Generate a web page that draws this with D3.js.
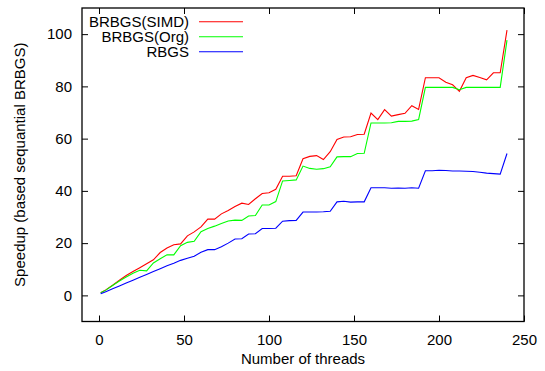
<!DOCTYPE html>
<html>
<head>
<meta charset="utf-8">
<script src="https://cdn.jsdelivr.net/npm/d3@7"></script>
<style>
  body { margin: 0; background: #fff; }
  svg { display: block; }
  text { font-family: "Liberation Sans", Arial, sans-serif; font-size: 15px; fill: #000; }
</style>
</head>
<body>
<svg id="chart" width="545" height="371"></svg>
<script>
// thread counts along x
const threads = [1, 4, 8, 12, 16, 20, 24, 28, 32, 36, 40, 44, 48, 52, 56, 60, 64, 68, 72, 76,
  80, 84, 88, 92, 96, 100, 104, 108, 112, 116, 120, 124, 128, 132, 136, 140, 144, 148, 152, 156,
  160, 164, 168, 172, 176, 180, 184, 188, 192, 196, 200, 204, 208, 212, 216, 220, 224, 228, 232, 236, 240];

const simd = [1.0, 2.1, 3.9, 5.8, 7.6, 9.1, 10.6, 12.1, 13.6, 16.4, 18.1, 19.4, 19.7, 22.8, 24.3, 26.2, 29.2, 29.2, 31.2, 32.5,
  34.0, 35.3, 34.8, 37.0, 39.0, 39.3, 40.6, 45.6, 45.6, 45.8, 52.3, 53.2, 53.5, 52.0, 55.0, 59.7, 60.6, 60.7, 61.6, 61.7,
  69.8, 67.3, 71.1, 68.6, 69.2, 69.7, 72.6, 71.2, 83.3, 83.3, 83.3, 81.6, 80.6, 78.1, 83.3, 84.2, 83.4, 82.5, 85.2, 85.2, 101.5];

const org = [1.0, 2.0, 3.8, 5.5, 7.0, 8.5, 9.6, 9.4, 12.4, 14.0, 15.5, 15.5, 19.0, 20.3, 20.7, 24.4, 25.6, 26.5, 27.5, 28.5,
  28.8, 28.7, 30.4, 30.6, 34.6, 34.6, 35.9, 43.8, 44.0, 44.2, 49.5, 48.6, 48.3, 48.5, 49.2, 53.0, 53.1, 53.1, 54.3, 54.4,
  66.0, 66.0, 66.0, 66.1, 66.6, 66.6, 66.7, 67.3, 79.6, 79.6, 79.6, 79.6, 79.6, 78.7, 79.6, 79.6, 79.6, 79.6, 79.6, 79.6, 97.7];

const rbgs = [0.6, 1.4, 2.5, 3.6, 4.7, 5.8, 6.9, 8.0, 9.1, 10.2, 11.3, 12.3, 13.4, 14.2, 15.0, 16.5, 17.5, 17.5, 18.6, 20.0,
  21.6, 21.7, 23.5, 23.6, 25.6, 25.6, 25.7, 28.4, 28.6, 28.7, 31.9, 31.9, 31.9, 32.0, 32.2, 35.8, 36.0, 35.7, 35.8, 35.8,
  41.2, 41.2, 41.2, 41.0, 41.1, 41.0, 41.2, 41.0, 47.7, 47.7, 47.9, 47.8, 47.6, 47.6, 47.5, 47.4, 47.1, 46.8, 46.6, 46.4, 54.3];

const seriesNames = ['BRBGS(SIMD)', 'BRBGS(Org)', 'RBGS'];
const seriesColors = ['#ff0000', '#00ff00', '#0000ff'];
const xTicks = [0, 50, 100, 150, 200, 250];
const yTicks = [0, 20, 40, 60, 80, 100];

const svg = d3.select('#chart');
const margin = { top: 8, right: 21, bottom: 49.5, left: 82 };
const width = 545, height = 371;

const x = d3.scaleLinear().domain([-10, 250]).range([margin.left, width - margin.right]);
const y = d3.scaleLinear().domain([-10, 110]).range([height - margin.bottom, margin.top]);

// axes with inward ticks on all four sides (gnuplot style)
const gx = svg.append('g').attr('transform', `translate(0,${ y.range()[0] })`)
  .call(d3.axisBottom(x).tickValues(xTicks).tickSizeInner(-6).tickSizeOuter(0).tickPadding(13));
const gxTop = svg.append('g').attr('transform', `translate(0,${ y.range()[1] })`)
  .call(d3.axisTop(x).tickValues(xTicks).tickSizeInner(-6).tickSizeOuter(0).tickFormat(''));
const gy = svg.append('g').attr('transform', `translate(${ x.range()[0] },0)`)
  .call(d3.axisLeft(y).tickValues(yTicks).tickSizeInner(-6).tickSizeOuter(0).tickPadding(10));
const gyRight = svg.append('g').attr('transform', `translate(${ x.range()[1] },0)`)
  .call(d3.axisRight(y).tickValues(yTicks).tickSizeInner(-6).tickSizeOuter(0).tickFormat(''));

[gx, gxTop, gy, gyRight].forEach(g => {
  g.select('.domain').remove();
  g.selectAll('.tick line').attr('stroke', '#000');
  g.selectAll('text').attr('font-size', 15).attr('font-family', '"Liberation Sans", Arial, sans-serif');
});

svg.append('rect')
  .attr('x', x.range()[0]).attr('y', y.range()[1])
  .attr('width', x.range()[1] - x.range()[0])
  .attr('height', y.range()[0] - y.range()[1])
  .attr('fill', 'none').attr('stroke', '#000').attr('stroke-width', 1.3);

// series lines
const allSeries = [simd, org, rbgs];
const line = d3.line()
  .x((d, i) => x(threads[i]))
  .y(d => y(d));

allSeries.forEach((vals, k) => {
  svg.append('path')
    .datum(vals)
    .attr('fill', 'none')
    .attr('stroke', seriesColors[k])
    .attr('stroke-width', 1.1)
    .attr('d', line);
});

// legend
const legend = svg.append('g');
seriesNames.forEach((name, k) => {
  const ly = 21.7 + k * 15;
  legend.append('text')
    .attr('x', 189).attr('y', ly).attr('dy', '0.35em')
    .attr('text-anchor', 'end')
    .text(name);
  legend.append('line')
    .attr('x1', 199).attr('x2', 243).attr('y1', ly).attr('y2', ly)
    .attr('stroke', seriesColors[k]).attr('stroke-width', 1.1);
});

// axis titles
svg.append('text')
  .attr('x', (x.range()[0] + x.range()[1]) / 2).attr('y', 364)
  .attr('text-anchor', 'middle')
  .text('Number of threads');

svg.append('text')
  .attr('transform', `translate(24.5,${ (y.range()[0] + y.range()[1]) / 2 }) rotate(-90)`)
  .attr('text-anchor', 'middle')
  .text('Speedup (based sequantial BRBGS)');
</script>
</body>
</html>
